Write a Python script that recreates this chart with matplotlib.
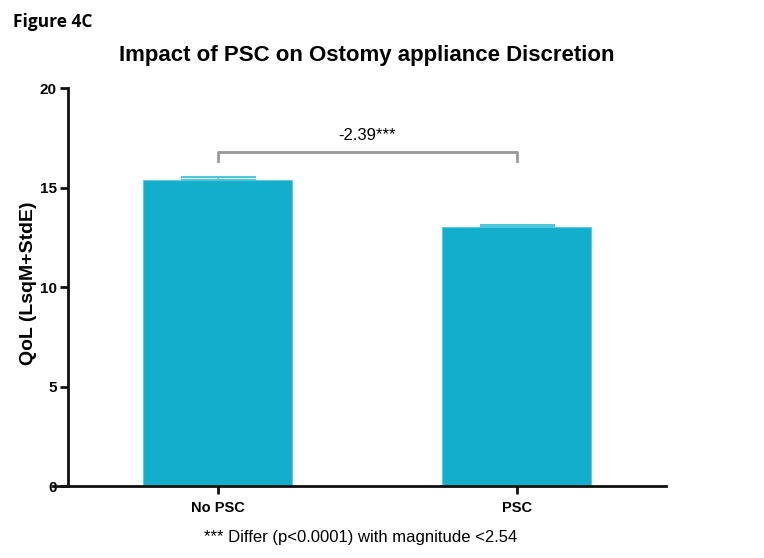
import matplotlib.pyplot as plt

groups = ['No PSC', 'PSC']
lsq_means = [15.4, 13.0]
std_errs = [0.15, 0.13]
y_ticks = [0, 5, 10, 15, 20]
diff_label = '-2.39***'
footnote = '*** Differ (p<0.0001) with magnitude <2.54'

plt.rcParams['font.family'] = ['Liberation Sans', 'DejaVu Sans']

fig = plt.figure(figsize=(7.64, 5.58), dpi=100)
ax = fig.add_axes([0.089, 0.129, 0.783, 0.713])

x = list(range(len(groups)))
ax.bar(x, lsq_means, width=0.5, color='#12AECB', edgecolor='#5CCBE0', linewidth=0.8, zorder=2)
ax.errorbar(x, lsq_means, yerr=[[0, 0], std_errs], fmt='none', ecolor='#4EC6DD',
            elinewidth=1.2, capsize=27, capthick=1.5, zorder=3)

# significance bracket
y_br, y_tip = 16.8, 16.35
ax.plot([0, 0, 1, 1], [y_tip, y_br, y_br, y_tip], color='#999999', lw=2, zorder=4)
ax.text(0.5, 17.25, diff_label, ha='center', va='bottom', fontsize=12)

ax.set_xlim(-0.5, 1.5)
ax.set_ylim(0, 20)
ax.set_yticks(y_ticks, [str(t) for t in y_ticks], fontweight='bold', fontsize=11)
ax.set_xticks(x, groups, fontweight='bold', fontsize=10.5)

for s in ['top', 'right']:
    ax.spines[s].set_visible(False)
for s in ['left', 'bottom']:
    ax.spines[s].set_linewidth(2)
    ax.spines[s].set_color('#111111')
ax.spines['bottom'].set_bounds(-0.55, 1.5)
ax.tick_params(axis='both', width=2, length=6, color='#111111', pad=2)
ax.tick_params(axis='x', pad=5)

ax.set_ylabel('QoL (LsqM+StdE)', fontweight='bold', fontsize=14)
ax.yaxis.set_label_coords(-0.052, 0.51)

fig.text(0.48, 0.9, 'Impact of PSC on Ostomy appliance Discretion',
         ha='center', va='center', fontsize=16, fontweight='bold')
fig.text(0.017, 0.96, 'Figure 4C', ha='left', va='center', fontsize=12.5,
         fontweight='bold', family=['Open Sans', 'DejaVu Sans'])
fig.text(0.472, 0.037, footnote, ha='center', va='center', fontsize=12)

fig.savefig('out.png', dpi=100)
